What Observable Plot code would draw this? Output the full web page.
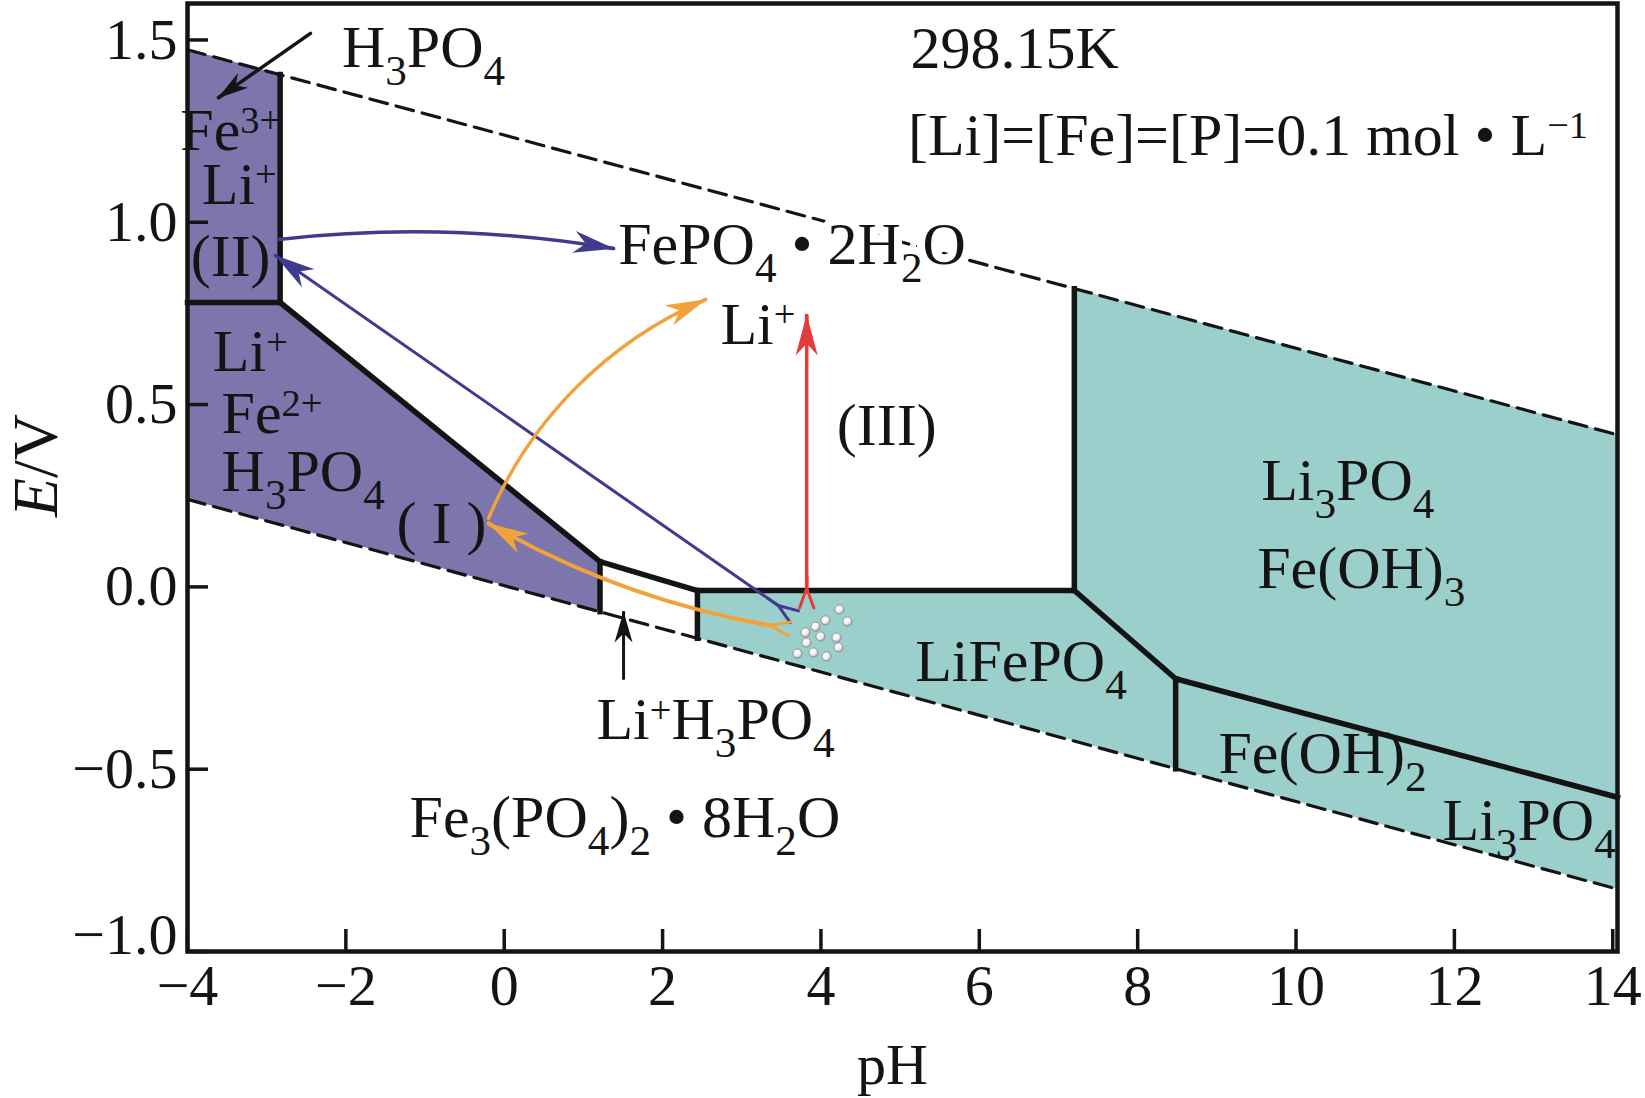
<!DOCTYPE html>
<html><head><meta charset="utf-8">
<script src="https://cdn.jsdelivr.net/npm/d3@7"></script>
<script src="https://cdn.jsdelivr.net/npm/@observablehq/plot@0.6"></script>
<style>html,body{margin:0;padding:0;background:#fff;} #chart svg{display:block;}</style>
</head><body><div id="chart"></div>
<script>
// ---------- data (pH, E/V) ----------
const xTicks = [-4, -2, 0, 2, 4, 6, 8, 10, 12, 14];
const yTicks = [-1, -0.5, 0, 0.5, 1, 1.5];

const oxygenLine = [[-4, 1.473], [14.06, 0.417]];
const hydrogenLine = [[-4, 0.240], [14.06, -0.829]];

// regions: [pH, lower E, upper E]
const regionFe3 = [[-4, 0.78, 1.473], [-2.83, 0.78, 1.405]];
const regionFe2 = [[-4, 0.240, 0.78], [-2.83, 0.171, 0.78], [1.21, -0.068, 0.069]];
const regionSolid = [[2.44, -0.141, -0.01], [7.20, -0.423, -0.01], [7.20, -0.423, 0.818], [14.06, -0.829, 0.417]];

// phase boundaries: [id, pH, E]
const boundaryLines = [
  ["a", -2.83, 1.405], ["a", -2.83, 0.78], ["a", -4, 0.78],
  ["b", -2.83, 0.78], ["b", 1.21, 0.069], ["b", 2.44, -0.01], ["b", 7.20, -0.01], ["b", 8.48, -0.252], ["b", 14.06, -0.577],
  ["c", 1.21, 0.069], ["c", 1.21, -0.068],
  ["d", 2.44, -0.01], ["d", 2.44, -0.141],
  ["e", 7.20, -0.01], ["e", 7.20, 0.818],
  ["f", 8.48, -0.252], ["f", 8.48, -0.499]
];

// labels: [text, pH, E]  (_ subscript, ^ superscript, *italic*)
const regionLabels = [
  ["H_3PO_4", -2.05, 1.479],
  ["Fe^{3+}", -4.09, 1.252],
  ["Li^+", -3.82, 1.104],
  ["(II)", -3.96, 0.906],
  ["Li^+", -3.68, 0.645],
  ["Fe^{2+}", -3.57, 0.476],
  ["H_3PO_4", -3.57, 0.317],
  ["( I )", -1.36, 0.174],
  ["Li^+", 2.73, 0.720],
  ["(III)", 4.20, 0.443],
  ["Li^+H_3PO_4", 1.165, -0.364],
  ["LiFePO_4", 5.19, -0.205],
  ["Li_3PO_4", 9.56, 0.292],
  ["Fe(OH)_3", 9.51, 0.050],
  ["Fe(OH)_2", 9.02, -0.457],
  ["Li_3PO_4", 11.85, -0.641],
  ["Fe_3(PO_4)_2 • 8H_2O", -1.196, -0.633],
  ["298.15K", 5.13, 1.477],
  ["[Li]=[Fe]=[P]=0.1 mol • L^{−1}", 5.10, 1.238]
];
// product label that sits on the O2 line (drawn with a white halo)
const productLabels = [["FePO_4 • 2H_2O", 1.44, 0.939]];

// arrows: [tail, tip] as [pH, E]
const arrowBlueStraight = [[3.46, -0.051], [-2.89, 0.909]];
const arrowBlueCurved = [[-2.851, 0.953], [1.380, 0.928]];
const arrowOrangeLower = [[3.363, -0.106], [-0.198, 0.174]];
const arrowOrangeUpper = [[-0.198, 0.188], [2.542, 0.788]];
const arrowRed = [[3.82, -0.004], [3.82, 0.744]];
const arrowBlackTop = [[-2.447, 1.518], [-3.608, 1.342]];
const arrowBlackBottom = [[1.507, -0.251], [1.507, -0.070]];

// gas bubbles
const bubbles = [[4.234, -0.062], [4.335, -0.095], [4.058, -0.092], [3.931, -0.109], [3.805, -0.125], [3.994, -0.136],
  [4.197, -0.139], [3.818, -0.153], [4.222, -0.166], [3.704, -0.183], [3.906, -0.180], [4.070, -0.191]];

// ---------- layout ----------
const W = 1645, H = 1098;
const mL = 187, mR = 28, mT = 3, mB = 147;
const plotW = W - mL - mR, plotH = H - mT - mB;
const xDomain = [-4, 14.06], yDomain = [-1, 1.6];
const NS = "http://www.w3.org/2000/svg";
const PURPLE = "#7c76ad", TEAL = "#9bcfcc", BLUE = "#3f3b8e", ORANGE = "#f2a23a", RED = "#e63b3b", INK = "#141414";
const xs = d3.scaleLinear(xDomain, [mL, W - mR]);
const ys = d3.scaleLinear(yDomain, [H - mB, mT]);

function headMarker(len, half, notch) {
  return (color) => {
    const m = document.createElementNS(NS, "marker");
    m.setAttribute("viewBox", `${-len - 2} ${-half - 2} ${len + 4} ${2 * half + 4}`);
    m.setAttribute("markerWidth", len + 4);
    m.setAttribute("markerHeight", 2 * half + 4);
    m.setAttribute("refX", 0); m.setAttribute("refY", 0);
    m.setAttribute("orient", "auto");
    m.setAttribute("markerUnits", "userSpaceOnUse");
    m.setAttribute("overflow", "visible");
    const p = document.createElementNS(NS, "path");
    p.setAttribute("d", `M1,0L${-len},${-half}L${-len + notch},0L${-len},${half}Z`);
    p.setAttribute("fill", color); p.setAttribute("stroke", "none");
    m.appendChild(p);
    return m;
  };
}
function fletchMarker(len, deg, sw) {
  return (color) => {
    const a = deg * Math.PI / 180, cx = len * Math.cos(a), cy = len * Math.sin(a);
    const m = document.createElementNS(NS, "marker");
    m.setAttribute("viewBox", `${-len - 4} ${-cy - 4} ${len + 8} ${2 * cy + 8}`);
    m.setAttribute("markerWidth", len + 8);
    m.setAttribute("markerHeight", 2 * cy + 8);
    m.setAttribute("refX", 0); m.setAttribute("refY", 0);
    m.setAttribute("orient", "auto");
    m.setAttribute("markerUnits", "userSpaceOnUse");
    m.setAttribute("overflow", "visible");
    const p = document.createElementNS(NS, "path");
    p.setAttribute("d", `M${-cx},${-cy}L0,0L${-cx},${cy}`);
    p.setAttribute("fill", "none"); p.setAttribute("stroke", color);
    p.setAttribute("stroke-width", sw); p.setAttribute("stroke-linecap", "round");
    m.appendChild(p);
    return m;
  };
}

// one annotation arrow: circular shaft (Plot.arrow with bend), filled head and feathered tail
function arrowMarks(pts, bend, color, sw, head, fletch) {
  const [tail, tip] = pts;
  const x1 = xs(tail[0]), y1 = ys(tail[1]), x2 = xs(tip[0]), y2 = ys(tip[1]);
  const chord = Math.atan2(y2 - y1, x2 - x1), b = bend * Math.PI / 180;
  const aEnd = chord + b, aStart = chord - b;
  const back = [xs.invert(x2 - 12 * Math.cos(aEnd)), ys.invert(y2 - 12 * Math.sin(aEnd))];
  const fore = [xs.invert(x1 + 12 * Math.cos(aStart)), ys.invert(y1 + 12 * Math.sin(aStart))];
  const marks = [
    Plot.arrow([pts], {x1: d => d[0][0], y1: d => d[0][1], x2: d => d[1][0], y2: d => d[1][1],
      bend, headLength: 0, stroke: color, strokeWidth: sw}),
    Plot.line([back, tip], {x: d => d[0], y: d => d[1], stroke: color, strokeWidth: sw, markerEnd: head})
  ];
  if (fletch) marks.push(Plot.line([tail, fore], {x: d => d[0], y: d => d[1], stroke: color, strokeWidth: sw, markerStart: fletch}));
  return marks;
}

function buildMarks(custom) {
  const head = custom ? headMarker(40, 11, 12) : "arrow";
  const headSmall = custom ? headMarker(30, 9, 9) : "arrow";
  const fletch = custom ? fletchMarker(21, 20, 3) : null;
  const px = d => d[0], py = d => d[1];
  return [
    Plot.areaY(regionFe3, {x: px, y1: d => d[1], y2: d => d[2], fill: PURPLE}),
    Plot.areaY(regionFe2, {x: px, y1: d => d[1], y2: d => d[2], fill: PURPLE}),
    Plot.areaY(regionSolid, {x: px, y1: d => d[1], y2: d => d[2], fill: TEAL}),
    Plot.line(oxygenLine, {x: px, y: py, stroke: INK, strokeWidth: 3.2, strokeDasharray: "18,9"}),
    Plot.line(hydrogenLine, {x: px, y: py, stroke: INK, strokeWidth: 3.2, strokeDasharray: "18,9"}),
    Plot.line(boundaryLines, {x: d => d[1], y: d => d[2], z: d => d[0], stroke: INK, strokeWidth: 5.5, strokeLinejoin: "miter", strokeLinecap: "square"}),
    Plot.frame({stroke: INK, strokeWidth: 4.5}),
    Plot.ruleX(xTicks, {insetTop: plotH - 22, stroke: INK, strokeWidth: 3.5}),
    Plot.ruleY(yTicks, {insetRight: plotW - 21, stroke: INK, strokeWidth: 3.5}),
    Plot.axisX({ticks: xTicks, tickSize: 0, tickPadding: 12, fontSize: 58, label: null, tickFormat: d3.format("d")}),
    Plot.axisY({ticks: yTicks.filter(d => d !== -1), tickSize: 0, tickPadding: 10, fontSize: 58, label: null, tickFormat: d3.format(".1f")}),
    Plot.axisY({ticks: [-1], tickSize: 0, tickPadding: 10, dy: -16, fontSize: 58, label: null, tickFormat: d3.format(".1f")}),
    Plot.text(["*E*/V"], {text: d => d, frameAnchor: "left", textAnchor: "middle", lineAnchor: "middle", dx: -151, dy: -12, rotate: -90, fontSize: 64, fill: INK}),
    Plot.text(["pH"], {text: d => d, frameAnchor: "bottom", textAnchor: "middle", lineAnchor: "middle", dx: -10, dy: 114, fontSize: 58, fill: INK}),
    Plot.text(productLabels, {x: d => d[1], y: d => d[2], text: d => d[0], textAnchor: "start", fontSize: 60, fill: INK, stroke: "white", strokeWidth: 16, strokeLinejoin: "round"}),
    Plot.text(regionLabels, {x: d => d[1], y: d => d[2], text: d => d[0], textAnchor: "start", fontSize: 60, fill: INK}),
    ...arrowMarks(arrowBlueStraight, 0, BLUE, 3, head, fletch),
    ...arrowMarks(arrowBlueCurved, 8, BLUE, 3.5, head, null),
    ...arrowMarks(arrowOrangeLower, 10, ORANGE, 4, head, fletch),
    ...arrowMarks(arrowOrangeUpper, 22, ORANGE, 3.5, head, null),
    ...arrowMarks(arrowRed, 0, RED, 3.5, head, fletch),
    ...arrowMarks(arrowBlackTop, 0, INK, 3.5, headSmall, null),
    ...arrowMarks(arrowBlackBottom, 0, INK, 3, headSmall, null),
    Plot.dot(bubbles, {x: px, y: py, r: 4.6, fill: "url(#bubbleGrad)", stroke: "#8c8c8c", strokeWidth: 0.9})
  ];
}

function makePlot(custom) {
  return Plot.plot({
    width: W, height: H,
    marginLeft: mL, marginRight: mR, marginTop: mT, marginBottom: mB,
    x: {domain: xDomain, label: null},
    y: {domain: yDomain, label: null},
    style: {fontFamily: "'Liberation Serif', 'Times New Roman', serif", fontSize: "58px", color: INK, background: "white", overflow: "visible"},
    marks: buildMarks(custom)
  });
}

let chart;
try { chart = makePlot(true); } catch (e) { console.error(e); chart = makePlot(false); }
document.getElementById("chart").appendChild(chart);

// gradient for bubbles
const defs = document.createElementNS(NS, "defs");
defs.innerHTML = `<radialGradient id="bubbleGrad" cx="38%" cy="35%" r="70%">
  <stop offset="0" stop-color="#ffffff"/><stop offset="0.55" stop-color="#f0f0f0"/><stop offset="1" stop-color="#9a9a9a"/></radialGradient>`;
chart.insertBefore(defs, chart.firstChild);

// rich text: subscripts, superscripts, italics
chart.querySelectorAll("text").forEach(t => {
  if (t.querySelector("tspan")) return;
  const s = t.textContent;
  if (!/[_^*]/.test(s)) return;
  const fs = parseFloat(getComputedStyle(t).fontSize) || 58;
  const tokens = s.match(/_\{[^}]*\}|\^\{[^}]*\}|_.|\^.|\*[^*]*\*|[^_^*]+/g);
  t.textContent = "";
  let shift = 0;
  for (const tok of tokens) {
    const ts = document.createElementNS(NS, "tspan");
    let content = tok, target = 0, size = null, italic = false;
    if (tok[0] === "_") { content = tok[1] === "{" ? tok.slice(2, -1) : tok.slice(1); target = 0.31 * fs; size = 0.72 * fs; }
    else if (tok[0] === "^") { content = tok[1] === "{" ? tok.slice(2, -1) : tok.slice(1); target = -0.27 * fs; size = 0.64 * fs; }
    else if (tok[0] === "*") { content = tok.slice(1, -1); italic = true; }
    if (target !== shift) { ts.setAttribute("dy", (target - shift).toFixed(2)); shift = target; }
    if (size) ts.setAttribute("font-size", size.toFixed(1));
    if (italic) ts.setAttribute("font-style", "italic");
    ts.textContent = content;
    t.appendChild(ts);
  }
});
</script></body></html>
